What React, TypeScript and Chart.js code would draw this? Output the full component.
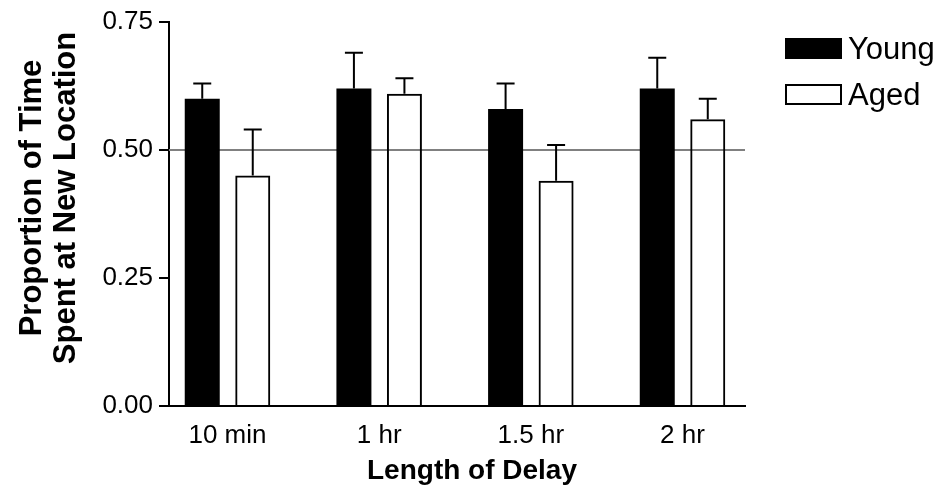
import React, { useEffect, useRef } from "react";
import { Chart, registerables } from "chart.js";

Chart.register(...registerables);

const categories = ["10 min", "1 hr", "1.5 hr", "2 hr"];
const youngValues = [0.6, 0.62, 0.58, 0.62];
const youngErrors = [0.03, 0.07, 0.05, 0.06];
const agedValues = [0.45, 0.61, 0.44, 0.56];
const agedErrors = [0.09, 0.03, 0.07, 0.04];
const yTicks = [0, 0.25, 0.5, 0.75];
const referenceValue = 0.5;
const xTitle = "Length of Delay";
const yTitle = ["Proportion of Time", "Spent at New Location"];

const FONT = "'Liberation Sans', Arial, sans-serif";

const refLinePlugin = {
  id: "refLine",
  beforeDatasetsDraw(chart: any) {
    const { ctx, chartArea, scales } = chart;
    const y = scales.y.getPixelForValue(referenceValue);
    ctx.save();
    ctx.strokeStyle = "#808080";
    ctx.lineWidth = 2;
    ctx.beginPath();
    ctx.moveTo(chartArea.left, y);
    ctx.lineTo(chartArea.right, y);
    ctx.stroke();
    ctx.restore();
  },
};

const errorBarPlugin = {
  id: "errorBars",
  afterDatasetsDraw(chart: any) {
    const { ctx, scales } = chart;
    ctx.save();
    ctx.strokeStyle = "#000";
    ctx.lineWidth = 2;
    chart.data.datasets.forEach((ds: any, di: number) => {
      const meta = chart.getDatasetMeta(di);
      meta.data.forEach((el: any, i: number) => {
        const v = ds.data[i].y;
        const e = ds.errors[i];
        const top = scales.y.getPixelForValue(v + e);
        ctx.beginPath();
        ctx.moveTo(el.x, el.y);
        ctx.lineTo(el.x, top);
        ctx.moveTo(el.x - 9, top);
        ctx.lineTo(el.x + 9, top);
        ctx.stroke();
      });
    });
    ctx.restore();
  },
};

const titlesPlugin = {
  id: "axisTitles",
  afterDraw(chart: any) {
    const { ctx, chartArea } = chart;
    ctx.save();
    ctx.fillStyle = "#000";
    ctx.textAlign = "center";
    ctx.textBaseline = "middle";
    // x title
    ctx.font = `bold 28px ${FONT}`;
    ctx.fillText(xTitle, (chartArea.left + chartArea.right) / 2 + 15, 471);
    // y title
    ctx.font = `bold 31px ${FONT}`;
    const cy = (chartArea.top + chartArea.bottom) / 2 - 16;
    yTitle.forEach((line, i) => {
      ctx.save();
      ctx.translate(32 + i * 34, cy);
      ctx.rotate(-Math.PI / 2);
      ctx.fillText(line, 0, 0);
      ctx.restore();
    });
    ctx.restore();
  },
};

const legendPlugin = {
  id: "customLegend",
  afterDraw(chart: any) {
    const { ctx, chartArea } = chart;
    ctx.save();
    const x0 = chartArea.right + 40;
    chart.data.datasets.forEach((ds: any, i: number) => {
      const y0 = 38 + i * 46;
      if (ds.backgroundColor === "#000") {
        ctx.fillStyle = "#000";
        ctx.fillRect(x0, y0, 57, 21);
      } else {
        ctx.strokeStyle = "#000";
        ctx.lineWidth = 2;
        ctx.strokeRect(x0 + 1, y0 + 1, 55, 19);
      }
      ctx.fillStyle = "#000";
      ctx.font = `31px ${FONT}`;
      ctx.textBaseline = "alphabetic";
      ctx.textAlign = "left";
      ctx.fillText(ds.label, x0 + 63, y0 + 21);
    });
    ctx.restore();
  },
};

export default function App() {
  const ref = useRef<HTMLCanvasElement>(null);
  useEffect(() => {
    if (!ref.current) return;
    const chart = new Chart(ref.current, {
      type: "bar",
      data: {
        datasets: [
          {
            label: "Young",
            data: youngValues.map((v, i) => ({ x: i, y: v })),
            errors: youngErrors,
            backgroundColor: "#000",
            borderColor: "#000",
            borderWidth: 0,
          } as any,
          {
            label: "Aged",
            data: agedValues.map((v, i) => ({ x: i, y: v })),
            errors: agedErrors,
            backgroundColor: "rgba(0,0,0,0)",
            borderColor: "#000",
            borderWidth: 2,
          } as any,
        ],
      },
      options: {
        animation: false,
        responsive: false,
        maintainAspectRatio: false,
        categoryPercentage: 0.666,
        barPercentage: 0.693,
        layout: { padding: { left: 0, top: 22, right: 196, bottom: 0 } },
        plugins: { legend: { display: false }, tooltip: { enabled: false } },
        scales: {
          x: {
            type: "linear",
            offset: false,
            min: -0.3857,
            max: 3.412,
            afterBuildTicks: (scale: any) => {
              scale.ticks = categories.map((_, i) => ({ value: i }));
            },
            afterFit: (scale: any) => {
              scale.height = 85;
            },
            grid: { display: false, drawTicks: false },
            border: { display: true, color: "#000", width: 2 },
            ticks: {
              color: "#000",
              font: { family: FONT, size: 26 },
              padding: 14,
              autoSkip: false,
              maxRotation: 0,
              callback: (v: any) => categories[v] ?? "",
            },
            title: { display: false },
          },
          y: {
            min: 0,
            max: 0.75,
            afterBuildTicks: (scale: any) => {
              scale.ticks = yTicks.map((v) => ({ value: v }));
            },
            afterFit: (scale: any) => {
              scale.width = 169;
            },
            grid: {
              display: true,
              drawOnChartArea: false,
              drawTicks: true,
              tickLength: 10,
              color: "#000",
              lineWidth: 2,
            },
            border: { display: true, color: "#000", width: 2 },
            ticks: {
              color: "#000",
              font: { family: FONT, size: 26 },
              padding: 6,
              callback: (v: any) => Number(v).toFixed(2),
            },
            title: { display: false },
          },
        },
      } as any,
      plugins: [refLinePlugin, errorBarPlugin, titlesPlugin, legendPlugin],
    });
    return () => chart.destroy();
  }, []);
  return (
    <div style={{ position: "fixed", left: 0, top: 0, width: 941, height: 491, background: "#fff" }}>
      <canvas ref={ref} width={941} height={491} style={{ width: 941, height: 491 }} />
    </div>
  );
}
